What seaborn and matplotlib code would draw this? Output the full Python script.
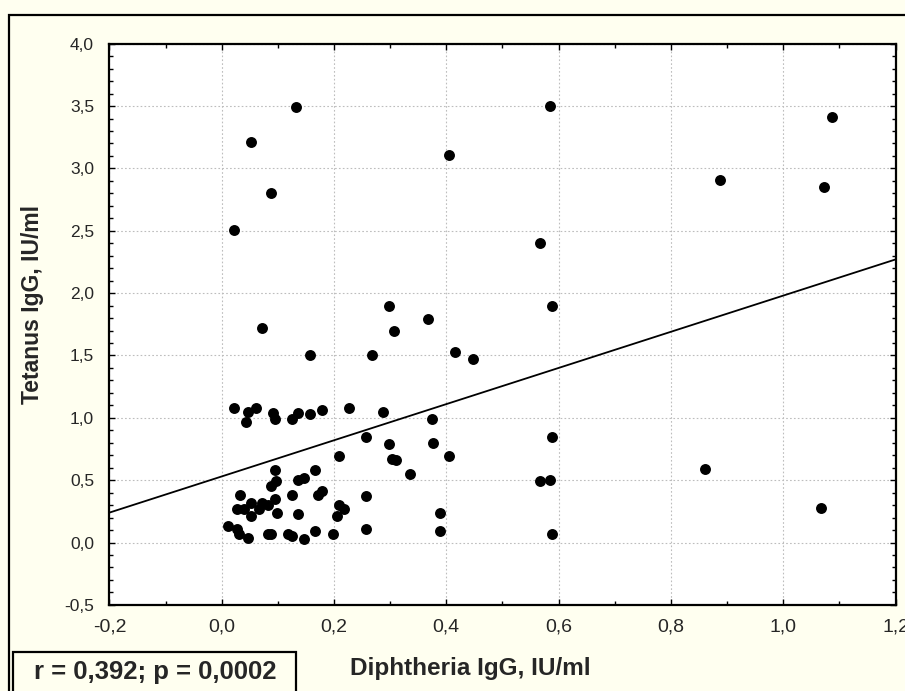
import matplotlib
matplotlib.use("Agg")
import matplotlib.pyplot as plt
from matplotlib.patches import Rectangle
from matplotlib.ticker import MultipleLocator, FuncFormatter
import seaborn as sns
import pandas as pd

# values
diphtheria = [0.132, 0.053, 0.088, 0.022, 0.298, 0.071, 0.306, 0.157, 0.267, 0.368,
              0.416, 0.447, 0.588, 0.585, 0.405, 0.567, 1.087, 0.887, 1.073, 0.861,
              1.067,
              0.022, 0.046, 0.061, 0.043, 0.092, 0.095, 0.126, 0.136, 0.157, 0.178,
              0.226, 0.288, 0.374,
              0.257, 0.298, 0.303, 0.310, 0.209, 0.095, 0.166, 0.336, 0.377, 0.405,
              0.588, 0.567, 0.585, 0.388, 0.388, 0.588,
              0.135, 0.147, 0.087, 0.097, 0.033, 0.095, 0.126, 0.171, 0.178, 0.028,
              0.040, 0.053, 0.067, 0.071, 0.083, 0.053, 0.098, 0.136, 0.209, 0.218,
              0.206, 0.257, 0.012, 0.027, 0.030, 0.046, 0.082, 0.088, 0.118, 0.126,
              0.147, 0.167, 0.198, 0.257]
tetanus = [3.49, 3.21, 2.80, 2.51, 1.90, 1.72, 1.70, 1.50, 1.50, 1.79,
           1.53, 1.47, 1.90, 3.50, 3.11, 2.40, 3.41, 2.91, 2.85, 0.59,
           0.28,
           1.08, 1.05, 1.08, 0.97, 1.04, 0.99, 0.99, 1.04, 1.03, 1.06,
           1.08, 1.05, 0.99,
           0.85, 0.79, 0.67, 0.66, 0.69, 0.58, 0.58, 0.55, 0.80, 0.69,
           0.85, 0.49, 0.50, 0.24, 0.09, 0.07,
           0.50, 0.52, 0.45, 0.49, 0.38, 0.35, 0.38, 0.38, 0.41, 0.27,
           0.27, 0.32, 0.27, 0.32, 0.30, 0.21, 0.24, 0.23, 0.30, 0.27,
           0.21, 0.37, 0.13, 0.11, 0.07, 0.04, 0.07, 0.07, 0.07, 0.05,
           0.03, 0.09, 0.07, 0.11]

fit_intercept = 0.53
fit_slope = 1.45
x_range = [-0.2, 1.2]
y_range = [-0.5, 4.0]

x_title = "Diphtheria IgG, IU/ml"
y_title = "Tetanus IgG, IU/ml"
stats_label = "r = 0,392; p = 0,0002"

df = pd.DataFrame({"diph": diphtheria, "tet": tetanus})
line_df = pd.DataFrame({"x": x_range,
                        "y": [fit_intercept + fit_slope * v for v in x_range]})

sns.set_theme(style="ticks")
plt.rcParams["font.family"] = ["Liberation Sans", "DejaVu Sans"]
bg = "#FFFFF0"

fig = plt.figure(figsize=(9.05, 6.91), dpi=100, facecolor=bg)
ax = fig.add_axes([109.4 / 905, 1 - 604.9 / 691, 786.1 / 905, 561.2 / 691])
ax.set_facecolor("white")

sns.lineplot(data=line_df, x="x", y="y", ax=ax, color="black", linewidth=1.3, zorder=2)
sns.scatterplot(data=df, x="diph", y="tet", ax=ax, color="black", s=62,
                linewidth=0, zorder=3)

ax.set_xlim(*x_range)
ax.set_ylim(*y_range)
ax.xaxis.set_major_locator(MultipleLocator(0.2))
ax.xaxis.set_minor_locator(MultipleLocator(0.1))
ax.yaxis.set_major_locator(MultipleLocator(0.5))
ax.yaxis.set_minor_locator(MultipleLocator(0.1))
comma = FuncFormatter(lambda v, p: f"{v:.1f}".replace(".", ",").replace("-0,0", "0,0"))
ax.xaxis.set_major_formatter(comma)
ax.yaxis.set_major_formatter(comma)

ax.grid(True, which="major", color="#bdbdbd", linestyle=(0, (1.5, 2)), linewidth=0.8)
ax.tick_params(which="both", direction="in", top=True, right=True, color="black")
ax.tick_params(which="major", length=4, width=1)
ax.tick_params(which="minor", length=3, width=1)
ax.tick_params(axis="y", which="major", labelsize=12.5, pad=11)
ax.tick_params(axis="x", which="major", labelsize=14, pad=10)
for sp in ax.spines.values():
    sp.set_linewidth(1.6)
    sp.set_color("black")
ax.set_xlabel("")
ax.set_ylabel("")

fig.text(33 / 905, 1 - 305 / 691, y_title, rotation=90, ha="center", va="center",
         fontsize=16.5, fontweight="bold")
fig.text(470 / 905, 1 - 669 / 691, x_title, ha="center", va="center",
         fontsize=17.5, fontweight="bold")

# outer frame, cut off by the right and bottom edges
fig.patches.append(Rectangle((9 / 905, -0.2), 1.2, 1 - 15 / 691 + 0.2,
                             transform=fig.transFigure, fill=False,
                             edgecolor="black", linewidth=1.6))
fig.patches.append(Rectangle((13 / 905, -0.1), 283 / 905, 0.1 + (691 - 652) / 691,
                             transform=fig.transFigure, facecolor=bg,
                             edgecolor="black", linewidth=1.6))
fig.text(155 / 905, 1 - 672 / 691, stats_label, ha="center", va="center",
         fontsize=18.5, fontweight="bold")

fig.savefig("out.png", dpi=100, facecolor=bg)
